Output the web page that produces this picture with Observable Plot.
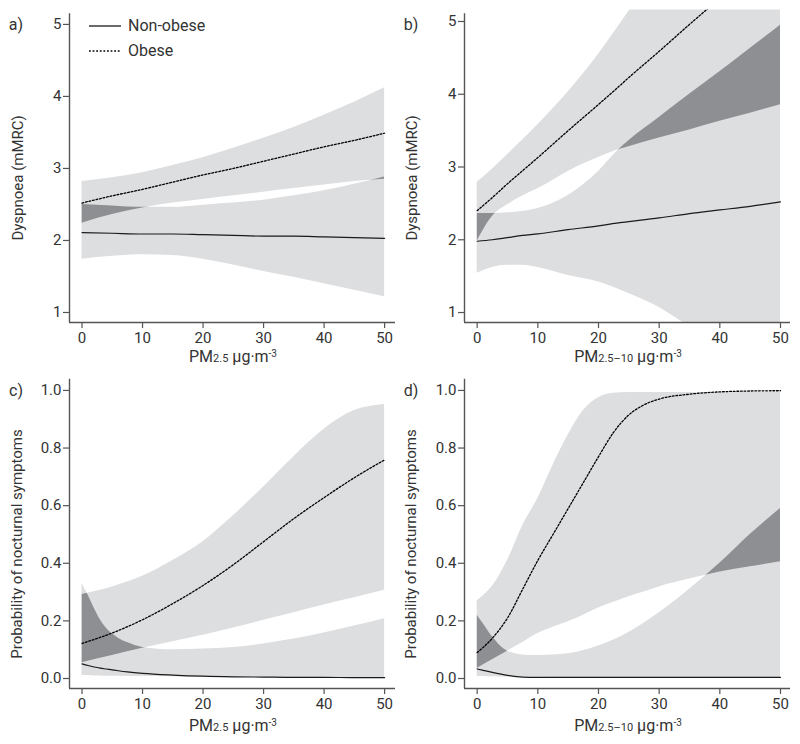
<!DOCTYPE html>
<html><head><meta charset="utf-8">
<script src="https://cdn.jsdelivr.net/npm/d3@7"></script>
<script src="https://cdn.jsdelivr.net/npm/@observablehq/plot@0.6"></script>
<style>
body{margin:0;background:#fff;font-family:Roboto,"DejaVu Sans",sans-serif;color:#333}
#wrap{position:relative;width:800px;height:744px;overflow:hidden;background:#fff}
.panel{position:absolute;width:400px;height:372px}
.lbl{position:absolute;white-space:nowrap;line-height:1;color:#333}
.c{transform:translate(-50%,-50%)}
.rot{transform:translate(-50%,-50%) rotate(-90deg)}
.sm{font-size:11px}
sup{font-size:10px;vertical-align:0;position:relative;top:-0.55em}
</style></head><body><div id="wrap"></div>
<script>
// ---------- shared ticks ----------
const xTicks = [0, 10, 20, 30, 40, 50];
const dysTicks = [1, 2, 3, 4, 5];
const probTicks = [0, 0.2, 0.4, 0.6, 0.8, 1.0];

// ---------- panel a: Dyspnoea vs PM2.5 ----------
const aX        = [0, 5, 10, 15, 20, 25, 30, 35, 40, 45, 50];
const aNonLo    = [1.74, 1.78, 1.80, 1.79, 1.74, 1.66, 1.57, 1.49, 1.40, 1.31, 1.22];
const aNonHi    = [2.50, 2.48, 2.46, 2.46, 2.49, 2.52, 2.56, 2.62, 2.69, 2.78, 2.88];
const aNonMean  = [2.11, 2.10, 2.09, 2.09, 2.08, 2.07, 2.06, 2.06, 2.05, 2.04, 2.03];
const aObLo     = [2.24, 2.36, 2.45, 2.52, 2.57, 2.62, 2.67, 2.72, 2.77, 2.82, 2.85];
const aObHi     = [2.82, 2.87, 2.94, 3.04, 3.15, 3.28, 3.42, 3.57, 3.74, 3.92, 4.12];
const aObMean   = [2.52, 2.62, 2.71, 2.81, 2.91, 3.00, 3.10, 3.20, 3.30, 3.39, 3.49];

// ---------- panel b: Dyspnoea vs PM2.5-10 ----------
const bX        = [0, 2.5, 5, 7.5, 10, 15, 20, 23, 25, 30, 35, 40, 45, 50];
const bNonLo    = [1.54, 1.62, 1.65, 1.65, 1.62, 1.51, 1.42, 1.33, 1.26, 1.07, 0.80, 0.50, 0.20, -0.10];
const bNonHi    = [2.36, 2.36, 2.37, 2.39, 2.43, 2.61, 2.94, 3.21, 3.36, 3.68, 4.00, 4.31, 4.63, 4.95];
const bNonMean  = [1.98, 2.00, 2.03, 2.06, 2.08, 2.14, 2.19, 2.23, 2.25, 2.30, 2.36, 2.41, 2.46, 2.52];
const bObLo     = [1.98, 2.32, 2.48, 2.60, 2.70, 2.94, 3.13, 3.23, 3.28, 3.40, 3.51, 3.63, 3.74, 3.855];
const bObHi     = [2.79, 2.97, 3.17, 3.37, 3.58, 4.03, 4.55, 4.90, 5.14, 5.90, 6.60, 7.40, 8.20, 9.00];
const bObMean   = [2.40, 2.58, 2.77, 2.95, 3.13, 3.50, 3.86, 4.08, 4.23, 4.59, 4.96, 5.32, 5.69, 6.05];

// ---------- panel c: nocturnal symptoms vs PM2.5 ----------
const cNonX     = [0, 1, 2, 3, 4, 5, 6, 7.5, 10, 15, 20, 25, 30, 35, 40, 45, 50];
const cNonLo    = [0.010, 0.010, 0.009, 0.009, 0.008, 0.008, 0.008, 0.007, 0.007, 0.006, 0.005, 0.004, 0.003, 0.003, 0.003, 0.003, 0.003];
const cNonHi    = [0.33, 0.29, 0.245, 0.205, 0.175, 0.155, 0.14, 0.125, 0.108, 0.10, 0.102, 0.108, 0.12, 0.137, 0.158, 0.182, 0.207];
const cNonMean  = [0.051, 0.045, 0.040, 0.036, 0.033, 0.030, 0.027, 0.023, 0.018, 0.012, 0.008, 0.006, 0.005, 0.004, 0.004, 0.003, 0.003];
const cObX      = [0, 5, 10, 15, 20, 25, 30, 35, 40, 45, 50];
const cObLo     = [0.055, 0.08, 0.105, 0.128, 0.15, 0.175, 0.202, 0.228, 0.255, 0.28, 0.306];
const cObHi     = [0.292, 0.318, 0.355, 0.41, 0.475, 0.565, 0.665, 0.77, 0.865, 0.93, 0.951];
const cObMean   = [0.122, 0.158, 0.204, 0.26, 0.323, 0.395, 0.475, 0.555, 0.628, 0.697, 0.759];

// ---------- panel d: nocturnal symptoms vs PM2.5-10 ----------
const dNonX     = [0, 1, 2.5, 5, 7.5, 10, 15, 20, 25, 30, 35, 40, 45, 50];
const dNonLo    = [0.008, 0.007, 0.006, 0.005, 0.004, 0.004, 0.003, 0.003, 0.003, 0.003, 0.003, 0.003, 0.003, 0.003];
const dNonHi    = [0.22, 0.19, 0.145, 0.095, 0.082, 0.08, 0.086, 0.113, 0.16, 0.228, 0.31, 0.40, 0.50, 0.59];
const dNonMean  = [0.033, 0.028, 0.021, 0.011, 0.005, 0.004, 0.004, 0.004, 0.004, 0.004, 0.004, 0.004, 0.004, 0.004];
const dObX      = [0, 2.5, 5, 7.5, 10, 12.5, 15, 17.5, 20, 22.5, 25, 27.5, 30, 35, 40, 45, 50];
const dObLo     = [0.035, 0.065, 0.095, 0.125, 0.156, 0.178, 0.197, 0.22, 0.245, 0.265, 0.284, 0.30, 0.318, 0.345, 0.37, 0.388, 0.405];
const dObHi     = [0.27, 0.32, 0.41, 0.53, 0.625, 0.74, 0.845, 0.93, 0.975, 0.99, 0.993, 0.993, 0.993, 0.993, 0.993, 0.993, 0.993];
const dObMean   = [0.09, 0.14, 0.21, 0.31, 0.41, 0.50, 0.59, 0.68, 0.77, 0.855, 0.915, 0.95, 0.97, 0.987, 0.995, 0.998, 0.999];

// ---------- styling ----------
const LIGHT = "#dddee0", DARK = "#8e8f93", AX = "#555", TXT = "#333", LINE = "#1a1a1a";
const DOTS = "1.8,1.8";

function rows(x, lo, hi, m) { return x.map((v, i) => ({x: v, lo: lo[i], hi: hi[i], m: m[i]})); }

const panels = [
  {id: "a", left: 0, top: 0, mL: 69, mR: 5, mT: 9.5, mB: 50, xDom: [-2.07, 51.8], yDom: [0.861, 5.20], yAxTop: 5.149,
   yTicks: dysTicks, yFmt: d3.format("d"),
   non: rows(aX, aNonLo, aNonHi, aNonMean), ob: rows(aX, aObLo, aObHi, aObMean)},
  {id: "b", left: 400, top: 0, mL: 64, mR: 10, mT: 9.5, mB: 50, xDom: [-2.09, 51.65], yDom: [0.863, 5.158], yAxTop: 5.106,
   yTicks: dysTicks, yFmt: d3.format("d"),
   non: rows(bX, bNonLo, bNonHi, bNonMean), ob: rows(bX, bObLo, bObHi, bObMean)},
  {id: "c", left: 0, top: 372, mL: 69, mR: 5, mT: 6.7, mB: 56, xDom: [-2.07, 51.8], yDom: [-0.0347, 1.039], yAxTop: 1.039,
   yTicks: probTicks, yFmt: d3.format(".1f"),
   non: rows(cNonX, cNonLo, cNonHi, cNonMean), ob: rows(cObX, cObLo, cObHi, cObMean)},
  {id: "d", left: 400, top: 372, mL: 64, mR: 10, mT: 6.7, mB: 56, xDom: [-2.09, 51.65], yDom: [-0.0347, 1.039], yAxTop: 1.039,
   yTicks: probTicks, yFmt: d3.format(".1f"),
   non: rows(dNonX, dNonLo, dNonHi, dNonMean), ob: rows(dObX, dObLo, dObHi, dObMean)}
];

const wrap = document.getElementById("wrap");
const ns = "http://www.w3.org/2000/svg";

for (const p of panels) {
  const svg = Plot.plot({
    width: 400, height: 372,
    marginLeft: p.mL, marginRight: p.mR, marginTop: p.mT, marginBottom: p.mB,
    x: {domain: p.xDom, axis: null},
    y: {domain: p.yDom, axis: null},
    style: {fontFamily: "Roboto, sans-serif", fontSize: "15px", color: TXT, background: "transparent", overflow: "visible"},
    marks: [
      Plot.areaY(p.non, {x: "x", y1: "lo", y2: "hi", fill: LIGHT, curve: "monotone-x", clip: true}),
      Plot.areaY(p.ob, {x: "x", y1: "lo", y2: "hi", fill: LIGHT, curve: "monotone-x", clip: true}),
      Plot.areaY(p.ob, {x: "x", y1: "lo", y2: "hi", fill: DARK, curve: "monotone-x", clip: true}),
      Plot.line(p.non, {x: "x", y: "m", stroke: LINE, strokeWidth: 1.2, curve: "monotone-x", clip: true}),
      Plot.line(p.ob, {x: "x", y: "m", stroke: "#000", strokeWidth: 1.3, strokeDasharray: DOTS, curve: "monotone-x", clip: true}),
      Plot.ruleX([p.xDom[0]], {y1: p.yDom[0], y2: p.yAxTop, stroke: AX, strokeWidth: 1.4}),
      Plot.ruleY([p.yDom[0]], {x1: p.xDom[0], x2: p.xDom[1], stroke: AX, strokeWidth: 1.4}),
      Plot.axisX({ticks: xTicks, tickSize: 6, tickPadding: 4, label: null, stroke: AX, fill: TXT, strokeWidth: 1.2}),
      Plot.axisY({ticks: p.yTicks, tickSize: 6, tickPadding: 2, tickFormat: p.yFmt, label: null, stroke: AX, fill: TXT, strokeWidth: 1.2})
    ]
  });
  // darker overlap: obese band clipped to the non-obese band shape
  const areas = svg.querySelectorAll('g[aria-label="area"] path');
  if (areas.length >= 3) {
    const defs = document.createElementNS(ns, "defs");
    const cp = document.createElementNS(ns, "clipPath");
    cp.setAttribute("id", "ov-" + p.id);
    const cpath = document.createElementNS(ns, "path");
    cpath.setAttribute("d", areas[0].getAttribute("d"));
    cp.appendChild(cpath); defs.appendChild(cp);
    svg.insertBefore(defs, svg.firstChild);
    areas[2].setAttribute("clip-path", "url(#ov-" + p.id + ")");
  }
  const div = document.createElement("div");
  div.className = "panel";
  div.style.left = p.left + "px"; div.style.top = p.top + "px";
  div.appendChild(svg);
  wrap.appendChild(div);
}

// ---------- text labels ----------
function label(html, x, y, cls, size) {
  const d = document.createElement("div");
  d.className = "lbl " + cls;
  d.style.left = x + "px"; d.style.top = y + "px";
  d.style.fontSize = size + "px";
  d.innerHTML = html;
  wrap.appendChild(d);
}
const letters = ["a)", "b)", "c)", "d)"];
label(letters[0], 16, 25, "c", 16);
label(letters[1], 411, 25, "c", 16);
label(letters[2], 16, 391, "c", 16);
label(letters[3], 411, 391, "c", 16);

const yTitleDys = "Dyspnoea (mMRC)";
const yTitleProb = "Probability of nocturnal symptoms";
label(yTitleDys, 17.5, 178, "rot", 15);
label(yTitleDys, 411.5, 178, "rot", 15);
label(yTitleProb, 17, 544, "rot", 15);
label(yTitleProb, 411, 544, "rot", 15);

const xTitle25 = 'PM<span class="sm">2.5</span> µg·m<sup>-3</sup>';
const xTitle2510 = 'PM<span class="sm">2.5–10</span> µg·m<sup>-3</sup>';
label(xTitle25, 233, 357, "c", 16);
label(xTitle2510, 628, 357, "c", 16);
label(xTitle25, 233, 726, "c", 16);
label(xTitle2510, 628, 726, "c", 16);

// ---------- legend (panel a) ----------
const legendNames = ["Non-obese", "Obese"];
const legendDash = [null, DOTS];
const legendY = [26, 51];
legendNames.forEach((name, i) => {
  const sw = document.createElementNS(ns, "svg");
  sw.setAttribute("width", 34); sw.setAttribute("height", 6);
  sw.style.position = "absolute"; sw.style.left = "88px"; sw.style.top = (legendY[i] - 3) + "px";
  const ln = document.createElementNS(ns, "line");
  ln.setAttribute("x1", 1); ln.setAttribute("x2", 33); ln.setAttribute("y1", 3); ln.setAttribute("y2", 3);
  ln.setAttribute("stroke", i ? "#000" : LINE); ln.setAttribute("stroke-width", 1.3);
  if (legendDash[i]) ln.setAttribute("stroke-dasharray", legendDash[i]);
  sw.appendChild(ln);
  wrap.appendChild(sw);
  const t = document.createElement("div");
  t.className = "lbl"; t.style.left = "128px"; t.style.top = (legendY[i] - 8) + "px"; t.style.fontSize = "16px";
  t.textContent = name;
  wrap.appendChild(t);
});
</script></body></html>
